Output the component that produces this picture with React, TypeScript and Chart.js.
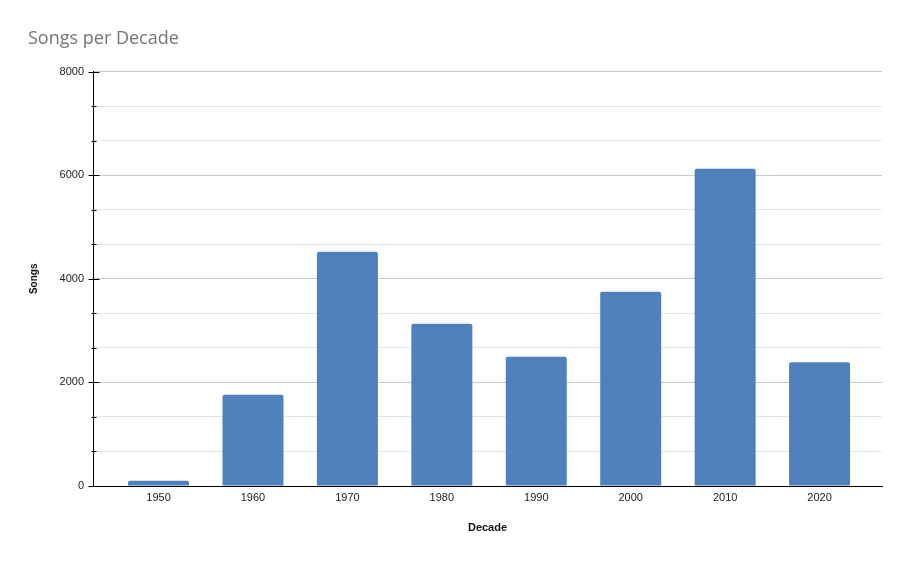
import React, { useEffect, useRef } from "react";
import { Chart, registerables } from "chart.js";

Chart.register(...registerables);

const decades = ["1950", "1960", "1970", "1980", "1990", "2000", "2010", "2020"];
const songs = [100, 1760, 4520, 3130, 2495, 3750, 6125, 2390];
const yMin = 0;
const yMax = 8000;
const majorStep = 2000;
const minorStep = 2000 / 3;
const xMin = -0.694;
const xMax = 7.661;

const isMajor = (v: number) => Math.abs(v / majorStep - Math.round(v / majorStep)) < 1e-6;

const tickMarks = {
  id: "tickMarks",
  afterDraw(chart: any) {
    const y = chart.scales.y;
    const ctx = chart.ctx;
    const ax = Math.round(y.right) + 0.5;
    ctx.save();
    ctx.strokeStyle = "#000";
    ctx.lineWidth = 1;
    y.ticks.forEach((t: any) => {
      const py = Math.round(y.getPixelForValue(t.value)) + 0.5;
      const major = isMajor(t.value);
      ctx.beginPath();
      ctx.moveTo(ax - (major ? 5 : 2), py);
      ctx.lineTo(ax + (major ? 6 : 3), py);
      ctx.stroke();
    });
    ctx.restore();
  },
};

export default function App() {
  const ref = useRef<HTMLCanvasElement>(null);
  useEffect(() => {
    document.body.style.margin = "0";
    const chart = new Chart(ref.current!, {
      type: "bar",
      data: {
        datasets: [
          {
            label: "Songs",
            data: songs.map((v, i) => ({ x: i, y: v })),
            backgroundColor: "#4f81bd",
            borderRadius: 2,
            borderSkipped: "bottom",
            barPercentage: 0.646,
            categoryPercentage: 1,
          },
        ],
      },
      options: {
        animation: false,
        responsive: false,
        devicePixelRatio: 1,
        layout: { padding: { left: 28, right: 29, top: 0, bottom: 0 } },
        plugins: {
          legend: { display: false },
          tooltip: { enabled: false },
          title: {
            display: true,
            text: "Songs per Decade",
            align: "start",
            color: "#757575",
            font: { family: "'Open Sans', sans-serif", size: 18, weight: "normal", lineHeight: 1.2 },
            padding: { top: 28, bottom: 22 },
          },
        },
        scales: {
          x: {
            type: "linear",
            min: xMin,
            max: xMax,
            offset: false,
            grid: { display: false, drawTicks: false },
            border: { color: "#000", width: 1 },
            afterBuildTicks: (s: any) => {
              s.ticks = decades.map((_, i) => ({ value: i }));
            },
            ticks: {
              color: "#222",
              font: { family: "'Liberation Sans', Arial, sans-serif", size: 11 },
              padding: 5,
              maxRotation: 0,
              autoSkip: false,
              callback: (v: any) => decades[Math.round(Number(v))] ?? "",
            },
            title: {
              display: true,
              text: "Decade",
              color: "#111",
              font: { family: "'Liberation Sans', Arial, sans-serif", size: 11, weight: "bold", lineHeight: 1.2 },
              padding: { top: 0, bottom: 28 },
            },
            afterFit: (s: any) => {
              s.height = 77;
            },
          },
          y: {
            min: yMin,
            max: yMax,
            grid: {
              drawTicks: false,
              color: (c: any) => (isMajor(c.tick.value) ? "#c8c8c8" : "#e4e4e4"),
            },
            border: { color: "#000", width: 1 },
            ticks: {
              stepSize: minorStep,
              autoSkip: false,
              color: "#222",
              font: { family: "'Liberation Sans', Arial, sans-serif", size: 11 },
              padding: 9,
              callback: (v: any) => (isMajor(Number(v)) ? String(Math.round(Number(v))) : ""),
            },
            title: {
              display: true,
              text: "Songs",
              color: "#111",
              font: { family: "'Liberation Sans', Arial, sans-serif", size: 10, weight: "bold", lineHeight: 1.2 },
              padding: { top: 0, bottom: 0 },
            },
            afterFit: (s: any) => {
              s.width = 65;
            },
          },
        },
      },
      plugins: [tickMarks],
    });
    return () => chart.destroy();
  }, []);
  return (
    <div style={{ width: 911, height: 563 }}>
      <canvas ref={ref} width={911} height={563} style={{ width: 911, height: 563, display: "block" }} />
    </div>
  );
}
